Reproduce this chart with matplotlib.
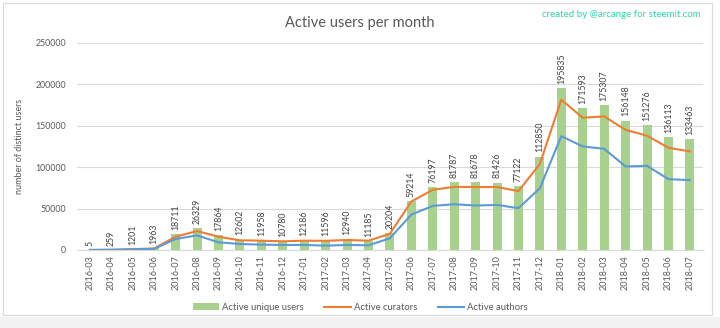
import numpy as np
import matplotlib
matplotlib.use("Agg")
import matplotlib.pyplot as plt
from matplotlib.patches import Rectangle

plt.rcParams['font.family'] = ['Lato', 'DejaVu Sans']

months = ['2016-03', '2016-04', '2016-05', '2016-06', '2016-07', '2016-08', '2016-09',
          '2016-10', '2016-11', '2016-12', '2017-01', '2017-02', '2017-03', '2017-04',
          '2017-05', '2017-06', '2017-07', '2017-08', '2017-09', '2017-10', '2017-11',
          '2017-12', '2018-01', '2018-02', '2018-03', '2018-04', '2018-05', '2018-06',
          '2018-07']
users = [5, 259, 1201, 1963, 18711, 26329, 17864, 12602, 11958, 10780, 12186, 11596,
         12940, 11185, 20204, 59214, 76197, 81787, 81678, 81426, 77122, 112850,
         195835, 171593, 175307, 156148, 151276, 136113, 133463]
curators = [0, 200, 1000, 1800, 16000, 22800, 16000, 11600, 11200, 10400, 11200, 11000,
            12000, 11200, 19500, 58500, 72600, 76200, 76000, 76000, 71000, 104000,
            181500, 159700, 161300, 145000, 138000, 123400, 119000]
authors = [0, 150, 700, 1300, 13200, 17600, 9200, 7200, 6400, 6000, 6000, 5200,
           6000, 5600, 14100, 42700, 53200, 55200, 53600, 54400, 50400, 74600,
           137500, 125000, 122200, 100800, 101600, 85500, 84300]

grey = '#595959'
fig = plt.figure(figsize=(7.2, 3.28), dpi=100)
fig.patches.append(Rectangle((0, 0), 1, 0.035, transform=fig.transFigure,
                             facecolor='#f2f2f2', edgecolor='none', zorder=-2))
fig.patches.append(Rectangle((0.004, 0.04), 0.985, 0.95, transform=fig.transFigure,
                             facecolor='white', edgecolor='#d9d9d9', linewidth=0.8,
                             zorder=-1))

ax = fig.add_axes([0.107, 0.238, 0.869, 0.631])
ax.patch.set_alpha(0)
x = np.arange(len(months))
b = ax.bar(x, users, width=0.42, color='#a9d18e', label='Active unique users', zorder=2)
l1, = ax.plot(x, curators, color='#ed7d31', linewidth=1.5, label='Active curators', zorder=3)
l2, = ax.plot(x, authors, color='#5b9bd5', linewidth=1.5, label='Active authors', zorder=3)

for xi, v in zip(x, users):
    ax.annotate(str(v), (xi, v), xytext=(0, 3), textcoords='offset points',
                rotation=90, ha='center', va='bottom', fontsize=6.3, color='#404040',
                zorder=4)

ax.set_ylim(0, 250000)
ax.set_xlim(-0.6, len(months) - 0.4)
ax.set_yticks(range(0, 250001, 50000))
ax.set_xticks(x)
ax.set_xticklabels(months, rotation=90, fontsize=6.5, color=grey)
ax.tick_params(axis='y', labelsize=6.3, colors=grey, length=0, pad=8)
ax.tick_params(axis='x', length=0, pad=4)
ax.grid(axis='y', color='#d9d9d9', linewidth=0.8, zorder=0)
for s in ['top', 'right', 'left']:
    ax.spines[s].set_visible(False)
ax.spines['bottom'].set_color('#d9d9d9')
ax.set_ylabel('number of distinct users', fontsize=6.5, color=grey, labelpad=8)

fig.text(0.5, 0.93, 'Active users per month', ha='center', va='center',
         fontsize=10.5, color=grey)
fig.text(0.973, 0.955, 'created by @arcange for steemit.com', ha='right', va='center',
         fontsize=7, color='#2ed3b0')

fig.legend([b, l1, l2], ['Active unique users', 'Active curators', 'Active authors'],
           loc='center', bbox_to_anchor=(0.5, 0.063), ncol=3, frameon=False,
           fontsize=6.8, labelcolor=grey, handlelength=2.8, columnspacing=2.2,
           handletextpad=0.3)

fig.savefig('out.png', dpi=100)
